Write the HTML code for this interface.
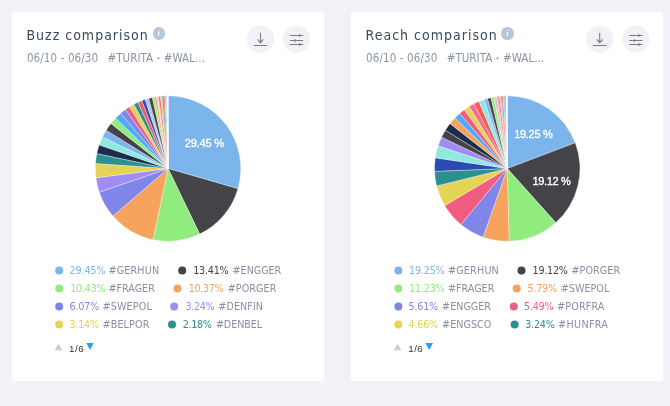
<!DOCTYPE html>
<html><head><meta charset="utf-8"><title>Comparison</title>
<style>
html,body{margin:0;padding:0}
body{width:670px;height:406px;overflow:hidden;background:#f1f2f8;font-family:"DejaVu Sans Condensed","Liberation Sans",sans-serif;position:relative}
.card{position:absolute;top:12px;width:312px;height:368.6px;background:#fff;border-radius:2px}
.t{position:absolute;white-space:nowrap;line-height:1}
.title{color:#3b4a5c}
.sub{color:#8b94a6}
.b{font-size:7.5px;vertical-align:0.9px}
.info{position:absolute;top:27.3px;width:12.3px;height:12.3px;border-radius:50%;background:#b7c6db;color:rgba(255,255,255,.92);font:italic bold 8.5px/12.3px "Liberation Serif",serif;text-align:center}
.nm{color:#8a90a3}
.dl{-webkit-text-stroke:0.35px #fff;color:#fff;font-family:"Liberation Sans",sans-serif}
.nav{color:#333;font-family:"Liberation Sans",sans-serif}
svg{position:absolute;left:0;top:0}
</style></head><body>
<div class="card" style="left:12px"></div>
<div class="card" style="left:351.2px"></div>
<svg width="670" height="406" viewBox="0 0 670 406"><g stroke="#fff" stroke-width="0.35" stroke-linejoin="round"><path d="M168.05 168.55L168.05 95.80A72.75 72.75 0 0 1 237.97 188.63Z" fill="#7cb5ec"/><path d="M168.05 168.55L237.97 188.63A72.75 72.75 0 0 1 199.60 234.10Z" fill="#434348"/><path d="M168.05 168.55L199.60 234.10A72.75 72.75 0 0 1 153.12 239.75Z" fill="#90ed7d"/><path d="M168.05 168.55L153.12 239.75A72.75 72.75 0 0 1 113.00 216.11Z" fill="#f7a35c"/><path d="M168.05 168.55L113.00 216.11A72.75 72.75 0 0 1 99.25 192.20Z" fill="#8085e9"/><path d="M168.05 168.55L99.25 192.20A72.75 72.75 0 0 1 95.89 177.80Z" fill="#a08cf5"/><path d="M168.05 168.55L95.89 177.80A72.75 72.75 0 0 1 95.48 163.48Z" fill="#e4d354"/><path d="M168.05 168.55L95.48 163.48A72.75 72.75 0 0 1 96.85 153.62Z" fill="#2b908f"/><path d="M168.05 168.55L96.85 153.62A72.75 72.75 0 0 1 99.26 144.87Z" fill="#1c2c4c"/><path d="M168.05 168.55L99.26 144.87A72.75 72.75 0 0 1 102.49 137.01Z" fill="#91e8e1"/><path d="M168.05 168.55L102.49 137.01A72.75 72.75 0 0 1 106.22 130.22Z" fill="#7cb5ec"/><path d="M168.05 168.55L106.22 130.22A72.75 72.75 0 0 1 110.95 123.47Z" fill="#434348"/><path d="M168.05 168.55L110.95 123.47A72.75 72.75 0 0 1 115.54 118.20Z" fill="#90ed7d"/><path d="M168.05 168.55L115.54 118.20A72.75 72.75 0 0 1 120.60 113.40Z" fill="#4daafc"/><path d="M168.05 168.55L120.60 113.40A72.75 72.75 0 0 1 125.49 109.55Z" fill="#8085e9"/><path d="M168.05 168.55L125.49 109.55A72.75 72.75 0 0 1 129.49 106.86Z" fill="#f15c80"/><path d="M168.05 168.55L129.49 106.86A72.75 72.75 0 0 1 133.89 104.32Z" fill="#e4d354"/><path d="M168.05 168.55L133.89 104.32A72.75 72.75 0 0 1 137.99 102.30Z" fill="#2b908f"/><path d="M168.05 168.55L137.99 102.30A72.75 72.75 0 0 1 141.85 100.68Z" fill="#f45b5b"/><path d="M168.05 168.55L141.85 100.68A72.75 72.75 0 0 1 145.08 99.52Z" fill="#2c4bb2"/><path d="M168.05 168.55L145.08 99.52A72.75 72.75 0 0 1 146.89 98.94Z" fill="#a9b7d6" stroke-width="0.25"/><path d="M168.05 168.55L146.89 98.94A72.75 72.75 0 0 1 148.72 98.41Z" fill="#a9b7d6" stroke-width="0.25"/><path d="M168.05 168.55L148.72 98.41A72.75 72.75 0 0 1 152.36 97.51Z" fill="#434348"/><path d="M168.05 168.55L152.36 97.51A72.75 72.75 0 0 1 154.60 97.05Z" fill="#90ed7d"/><path d="M168.05 168.55L154.60 97.05A72.75 72.75 0 0 1 156.54 96.72Z" fill="#f7a35c" stroke-width="0.25"/><path d="M168.05 168.55L156.54 96.72A72.75 72.75 0 0 1 157.60 96.55Z" fill="#f9b4c0" stroke-width="0.25"/><path d="M168.05 168.55L157.60 96.55A72.75 72.75 0 0 1 158.61 96.42Z" fill="#f9b4c0" stroke-width="0.25"/><path d="M168.05 168.55L158.61 96.42A72.75 72.75 0 0 1 160.37 96.21Z" fill="#f15c80" stroke-width="0.25"/><path d="M168.05 168.55L160.37 96.21A72.75 72.75 0 0 1 162.21 96.03Z" fill="#e4d354" stroke-width="0.25"/><path d="M168.05 168.55L162.21 96.03A72.75 72.75 0 0 1 163.54 95.94Z" fill="#2b908f" stroke-width="0.25"/><path d="M168.05 168.55L163.54 95.94A72.75 72.75 0 0 1 164.87 95.87Z" fill="#f45b5b" stroke-width="0.25"/><path d="M168.05 168.55L164.87 95.87A72.75 72.75 0 0 1 166.07 95.83Z" fill="#9ccdee" stroke-width="0.25"/><path d="M168.05 168.55L166.07 95.83A72.75 72.75 0 0 1 167.22 95.80Z" fill="#9ccdee" stroke-width="0.25"/><path d="M168.05 168.55L167.22 95.80A72.75 72.75 0 0 1 167.32 95.80Z" fill="#f9b4c0" stroke-width="0.25"/><path d="M168.05 168.55L167.32 95.80A72.75 72.75 0 0 1 167.43 95.80Z" fill="#9ccdee" stroke-width="0.25"/><path d="M168.05 168.55L167.43 95.80A72.75 72.75 0 0 1 167.53 95.80Z" fill="#c4f5b8" stroke-width="0.25"/><path d="M168.05 168.55L167.53 95.80A72.75 72.75 0 0 1 167.63 95.80Z" fill="#f9c9a0" stroke-width="0.25"/><path d="M168.05 168.55L167.63 95.80A72.75 72.75 0 0 1 167.74 95.80Z" fill="#a9b7d6" stroke-width="0.25"/><path d="M168.05 168.55L167.74 95.80A72.75 72.75 0 0 1 167.84 95.80Z" fill="#f9b4c0" stroke-width="0.25"/><path d="M168.05 168.55L167.84 95.80A72.75 72.75 0 0 1 167.95 95.80Z" fill="#91e8e1" stroke-width="0.25"/><path d="M168.05 168.55L167.95 95.80A72.75 72.75 0 0 1 168.05 95.80Z" fill="#9ccdee" stroke-width="0.25"/></g>
<g stroke="#fff" stroke-width="0.35" stroke-linejoin="round"><path d="M507.25 168.55L507.25 95.80A72.75 72.75 0 0 1 575.30 142.83Z" fill="#7cb5ec"/><path d="M507.25 168.55L575.30 142.83A72.75 72.75 0 0 1 555.80 222.73Z" fill="#434348"/><path d="M507.25 168.55L555.80 222.73A72.75 72.75 0 0 1 509.08 241.28Z" fill="#90ed7d"/><path d="M507.25 168.55L509.08 241.28A72.75 72.75 0 0 1 483.08 237.17Z" fill="#f7a35c"/><path d="M507.25 168.55L483.08 237.17A72.75 72.75 0 0 1 460.88 224.60Z" fill="#8085e9"/><path d="M507.25 168.55L460.88 224.60A72.75 72.75 0 0 1 444.65 205.62Z" fill="#f15c80"/><path d="M507.25 168.55L444.65 205.62A72.75 72.75 0 0 1 436.62 185.98Z" fill="#e4d354"/><path d="M507.25 168.55L436.62 185.98A72.75 72.75 0 0 1 434.55 171.34Z" fill="#2b908f"/><path d="M507.25 168.55L434.55 171.34A72.75 72.75 0 0 1 435.30 157.79Z" fill="#2c4bb2"/><path d="M507.25 168.55L435.30 157.79A72.75 72.75 0 0 1 438.14 145.82Z" fill="#91e8e1"/><path d="M507.25 168.55L438.14 145.82A72.75 72.75 0 0 1 441.59 137.23Z" fill="#a08cf5"/><path d="M507.25 168.55L441.59 137.23A72.75 72.75 0 0 1 445.42 130.21Z" fill="#434348"/><path d="M507.25 168.55L445.42 130.21A72.75 72.75 0 0 1 450.08 123.56Z" fill="#1c2c4c"/><path d="M507.25 168.55L450.08 123.56A72.75 72.75 0 0 1 454.92 118.01Z" fill="#f7a35c"/><path d="M507.25 168.55L454.92 118.01A72.75 72.75 0 0 1 459.77 113.43Z" fill="#4daafc"/><path d="M507.25 168.55L459.77 113.43A72.75 72.75 0 0 1 464.39 109.77Z" fill="#f15c80"/><path d="M507.25 168.55L464.39 109.77A72.75 72.75 0 0 1 469.24 106.52Z" fill="#e4d354"/><path d="M507.25 168.55L469.24 106.52A72.75 72.75 0 0 1 474.00 103.84Z" fill="#fb6a8c"/><path d="M507.25 168.55L474.00 103.84A72.75 72.75 0 0 1 479.00 101.51Z" fill="#f45b5b"/><path d="M507.25 168.55L479.00 101.51A72.75 72.75 0 0 1 484.05 99.60Z" fill="#91e8e1"/><path d="M507.25 168.55L484.05 99.60A72.75 72.75 0 0 1 487.45 98.55Z" fill="#7cb5ec"/><path d="M507.25 168.55L487.45 98.55A72.75 72.75 0 0 1 491.01 97.63Z" fill="#434348"/><path d="M507.25 168.55L491.01 97.63A72.75 72.75 0 0 1 494.12 96.99Z" fill="#90ed7d"/><path d="M507.25 168.55L494.12 96.99A72.75 72.75 0 0 1 496.82 96.55Z" fill="#f9b4c0"/><path d="M507.25 168.55L496.82 96.55A72.75 72.75 0 0 1 498.14 96.37Z" fill="#a9b7d6" stroke-width="0.25"/><path d="M507.25 168.55L498.14 96.37A72.75 72.75 0 0 1 499.65 96.20Z" fill="#f15c80" stroke-width="0.25"/><path d="M507.25 168.55L499.65 96.20A72.75 72.75 0 0 1 500.91 96.08Z" fill="#e4d354" stroke-width="0.25"/><path d="M507.25 168.55L500.91 96.08A72.75 72.75 0 0 1 501.67 96.01Z" fill="#2b908f" stroke-width="0.25"/><path d="M507.25 168.55L501.67 96.01A72.75 72.75 0 0 1 503.07 95.92Z" fill="#f15c80" stroke-width="0.25"/><path d="M507.25 168.55L503.07 95.92A72.75 72.75 0 0 1 505.29 95.83Z" fill="#9ccdee"/><path d="M507.25 168.55L505.29 95.83A72.75 72.75 0 0 1 506.30 95.81Z" fill="#5f927c" stroke-width="0.25"/><path d="M507.25 168.55L506.30 95.81A72.75 72.75 0 0 1 506.42 95.80Z" fill="#f9b4c0" stroke-width="0.25"/><path d="M507.25 168.55L506.42 95.80A72.75 72.75 0 0 1 506.54 95.80Z" fill="#9ccdee" stroke-width="0.25"/><path d="M507.25 168.55L506.54 95.80A72.75 72.75 0 0 1 506.66 95.80Z" fill="#c4f5b8" stroke-width="0.25"/><path d="M507.25 168.55L506.66 95.80A72.75 72.75 0 0 1 506.78 95.80Z" fill="#f9c9a0" stroke-width="0.25"/><path d="M507.25 168.55L506.78 95.80A72.75 72.75 0 0 1 506.89 95.80Z" fill="#a9b7d6" stroke-width="0.25"/><path d="M507.25 168.55L506.89 95.80A72.75 72.75 0 0 1 507.01 95.80Z" fill="#f9b4c0" stroke-width="0.25"/><path d="M507.25 168.55L507.01 95.80A72.75 72.75 0 0 1 507.13 95.80Z" fill="#91e8e1" stroke-width="0.25"/><path d="M507.25 168.55L507.13 95.80A72.75 72.75 0 0 1 507.25 95.80Z" fill="#9ccdee" stroke-width="0.25"/></g>
<circle cx="260.5" cy="39.2" r="13.6" fill="#f0f2f7"/>
<circle cx="296.6" cy="39.2" r="13.6" fill="#f0f2f7"/>
<g stroke="#7c7c7c" stroke-width="1.05" fill="none" stroke-linecap="round" stroke-linejoin="round"><path d="M260.5 33.3V42.8M257.8 39.7L260.5 42.9L263.2 39.7M254.2 45.4H266.8"/></g>
<g stroke="#7c7c7c" stroke-width="1.05" fill="none" stroke-linecap="round"><path d="M290.4 35.4H302.8M290.4 40.5H302.8M290.4 44.4H302.8M299.7 34.3V36.5M295.1 39.4V41.6M299.7 43.3V45.5"/></g>
<path d="M58.4 343.4L62.1 350.2H54.7Z" fill="#cccccc"/>
<path d="M86.3 343.1H93.7L90.0 350Z" fill="#1ea0fa"/><circle cx="599.7" cy="39.2" r="13.6" fill="#f0f2f7"/>
<circle cx="635.8" cy="39.2" r="13.6" fill="#f0f2f7"/>
<g stroke="#7c7c7c" stroke-width="1.05" fill="none" stroke-linecap="round" stroke-linejoin="round"><path d="M599.7 33.3V42.8M597.0 39.7L599.7 42.9L602.4 39.7M593.4 45.4H606.0"/></g>
<g stroke="#7c7c7c" stroke-width="1.05" fill="none" stroke-linecap="round"><path d="M629.6 35.4H642.0M629.6 40.5H642.0M629.6 44.4H642.0M638.9 34.3V36.5M634.3 39.4V41.6M638.9 43.3V45.5"/></g>
<path d="M397.6 343.4L401.3 350.2H393.9Z" fill="#cccccc"/>
<path d="M425.5 343.1H432.9L429.2 350Z" fill="#1ea0fa"/><circle cx="59.2" cy="270.4" r="4" fill="#7cb5ec"/><circle cx="182.2" cy="270.4" r="4" fill="#434348"/><circle cx="59.2" cy="288.4" r="4" fill="#90ed7d"/><circle cx="177.5" cy="288.4" r="4" fill="#f7a35c"/><circle cx="59.2" cy="306.4" r="4" fill="#8085e9"/><circle cx="174.2" cy="306.4" r="4" fill="#a08cf5"/><circle cx="59.2" cy="324.4" r="4" fill="#e4d354"/><circle cx="172.0" cy="324.4" r="4" fill="#2b908f"/><circle cx="398.4" cy="270.4" r="4" fill="#7cb5ec"/><circle cx="521.5" cy="270.4" r="4" fill="#434348"/><circle cx="398.4" cy="288.4" r="4" fill="#90ed7d"/><circle cx="516.7" cy="288.4" r="4" fill="#f7a35c"/><circle cx="398.4" cy="306.4" r="4" fill="#8085e9"/><circle cx="513.8" cy="306.4" r="4" fill="#f15c80"/><circle cx="398.4" cy="324.4" r="4" fill="#e4d354"/><circle cx="514.6" cy="324.4" r="4" fill="#2b908f"/></svg>
<div class="info" style="left:152.6px">i</div>
<div class="info" style="left:501.3px">i</div>
<div class="t title" style="left:26.4px;top:28.00px;font-size:14px;letter-spacing:1.00px;">Buzz comparison</div>
<div class="t sub" style="left:26.9px;top:53.25px;font-size:11.5px;letter-spacing:0.11px;">06/10 - 06/30</div>
<div class="t sub" style="left:107.5px;top:53.25px;font-size:11.5px;letter-spacing:0.04px;">#TURITA <span class=b>•</span> #WAL...</div>
<div class="t nav" style="left:69.0px;top:343.60px;font-size:9.8px;letter-spacing:0.49px;">1/6</div>
<div class="t title" style="left:365.6px;top:28.00px;font-size:14px;letter-spacing:1.00px;">Reach comparison</div>
<div class="t sub" style="left:366.1px;top:53.25px;font-size:11.5px;letter-spacing:0.11px;">06/10 - 06/30</div>
<div class="t sub" style="left:446.7px;top:53.25px;font-size:11.5px;letter-spacing:0.04px;">#TURITA <span class=b>•</span> #WAL...</div>
<div class="t nav" style="left:408.2px;top:343.60px;font-size:9.8px;letter-spacing:0.49px;">1/6</div>
<div class="t lg" style="left:69.4px;top:266.15px;font-size:10.7px;letter-spacing:-0.07px;color:#7cb5ec;">29.45%</div>
<div class="t lg nm" style="left:108.4px;top:266.15px;font-size:10.7px;letter-spacing:0.18px;">#GERHUN</div>
<div class="t lg" style="left:193.2px;top:266.15px;font-size:10.7px;letter-spacing:-0.23px;color:#434348;">13.41%</div>
<div class="t lg nm" style="left:232.6px;top:266.15px;font-size:10.7px;letter-spacing:-0.05px;">#ENGGER</div>
<div class="t lg" style="left:70.2px;top:284.15px;font-size:10.7px;letter-spacing:-0.23px;color:#90ed7d;">10.43%</div>
<div class="t lg nm" style="left:108.4px;top:284.15px;font-size:10.7px;letter-spacing:0.01px;">#FRAGER</div>
<div class="t lg" style="left:188.7px;top:284.15px;font-size:10.7px;letter-spacing:-0.35px;color:#f7a35c;">10.37%</div>
<div class="t lg nm" style="left:227.7px;top:284.15px;font-size:10.7px;letter-spacing:0.06px;">#PORGER</div>
<div class="t lg" style="left:69.4px;top:302.15px;font-size:10.7px;letter-spacing:-0.19px;color:#8085e9;">6.07%</div>
<div class="t lg nm" style="left:102.5px;top:302.15px;font-size:10.7px;letter-spacing:0.14px;">#SWEPOL</div>
<div class="t lg" style="left:185.4px;top:302.15px;font-size:10.7px;letter-spacing:-0.31px;color:#a08cf5;">3.24%</div>
<div class="t lg nm" style="left:218.3px;top:302.15px;font-size:10.7px;letter-spacing:0.07px;">#DENFIN</div>
<div class="t lg" style="left:69.4px;top:320.15px;font-size:10.7px;letter-spacing:-0.19px;color:#e4d354;">3.14%</div>
<div class="t lg nm" style="left:102.5px;top:320.15px;font-size:10.7px;letter-spacing:0.13px;">#BELPOR</div>
<div class="t lg" style="left:182.8px;top:320.15px;font-size:10.7px;letter-spacing:-0.34px;color:#2b908f;">2.18%</div>
<div class="t lg nm" style="left:215.9px;top:320.15px;font-size:10.7px;letter-spacing:-0.08px;">#DENBEL</div>
<div class="t lg" style="left:409.0px;top:266.15px;font-size:10.7px;letter-spacing:-0.19px;color:#7cb5ec;">19.25%</div>
<div class="t lg nm" style="left:448.0px;top:266.15px;font-size:10.7px;letter-spacing:0.18px;">#GERHUN</div>
<div class="t lg" style="left:532.5px;top:266.15px;font-size:10.7px;letter-spacing:-0.23px;color:#434348;">19.12%</div>
<div class="t lg nm" style="left:571.5px;top:266.15px;font-size:10.7px;letter-spacing:0.05px;">#PORGER</div>
<div class="t lg" style="left:409.0px;top:284.15px;font-size:10.7px;letter-spacing:-0.19px;color:#90ed7d;">11.23%</div>
<div class="t lg nm" style="left:448.0px;top:284.15px;font-size:10.7px;letter-spacing:-0.02px;">#FRAGER</div>
<div class="t lg" style="left:527.6px;top:284.15px;font-size:10.7px;letter-spacing:-0.26px;color:#f7a35c;">5.79%</div>
<div class="t lg nm" style="left:560.7px;top:284.15px;font-size:10.7px;letter-spacing:0.02px;">#SWEPOL</div>
<div class="t lg" style="left:408.6px;top:302.15px;font-size:10.7px;letter-spacing:-0.24px;color:#8085e9;">5.61%</div>
<div class="t lg nm" style="left:442.1px;top:302.15px;font-size:10.7px;letter-spacing:-0.01px;">#ENGGER</div>
<div class="t lg" style="left:524.0px;top:302.15px;font-size:10.7px;letter-spacing:-0.24px;color:#f15c80;">5.49%</div>
<div class="t lg nm" style="left:557.1px;top:302.15px;font-size:10.7px;letter-spacing:0.14px;">#PORFRA</div>
<div class="t lg" style="left:408.6px;top:320.15px;font-size:10.7px;letter-spacing:-0.24px;color:#e4d354;">4.66%</div>
<div class="t lg nm" style="left:442.1px;top:320.15px;font-size:10.7px;letter-spacing:0.02px;">#ENGSCO</div>
<div class="t lg" style="left:525.2px;top:320.15px;font-size:10.7px;letter-spacing:-0.24px;color:#2b908f;">3.24%</div>
<div class="t lg nm" style="left:558.1px;top:320.15px;font-size:10.7px;letter-spacing:0.32px;">#HUNFRA</div>
<div class="t dl" style="left:184.7px;top:137.50px;font-size:11px;letter-spacing:-0.16px;">29.45 %</div>
<div class="t dl" style="left:514.2px;top:128.50px;font-size:11px;letter-spacing:-0.30px;">19.25 %</div>
<div class="t dl" style="left:532.5px;top:175.50px;font-size:11px;letter-spacing:-0.33px;">19.12 %</div>
</body></html>
